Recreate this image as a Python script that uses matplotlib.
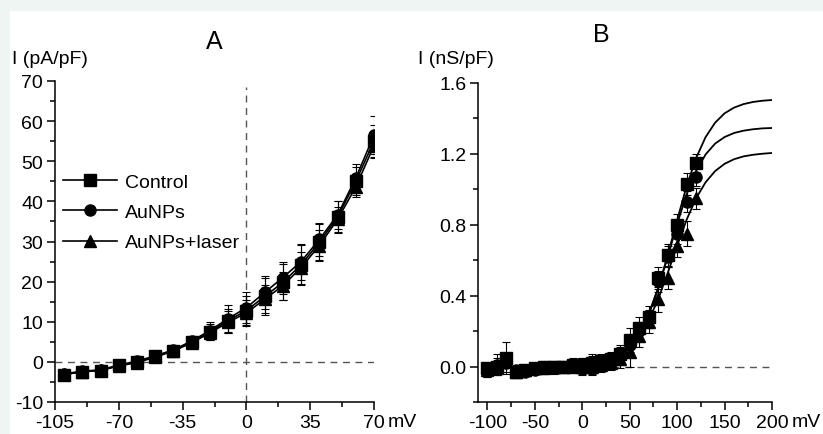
import matplotlib
matplotlib.use("Agg")
import matplotlib.pyplot as plt
from matplotlib.patches import Rectangle
from matplotlib.ticker import MultipleLocator, FormatStrFormatter

plt.rcParams["font.family"] = ["Liberation Sans", "DejaVu Sans"]
plt.rcParams["font.size"] = 14
plt.rcParams["axes.unicode_minus"] = False

# ---- panel A: I-V relation ----
v_a = [-100, -90, -80, -70, -60, -50, -40, -30, -20, -10, 0, 10, 20, 30, 40, 50, 60, 70]
ctrl_a = [-3.2, -2.4, -2.2, -0.9, 0.0, 1.4, 2.8, 4.9, 7.5, 10.3, 12.8, 16.3, 19.8, 24.2, 29.8, 36.1, 45.0, 55.0]
aunp_a = [-3.0, -2.3, -2.0, -0.8, 0.2, 1.5, 3.0, 5.2, 7.8, 10.8, 13.5, 17.3, 21.0, 25.0, 30.5, 36.6, 45.8, 56.5]
laser_a = [-3.1, -2.5, -2.1, -1.0, -0.2, 1.2, 2.7, 4.8, 7.2, 9.9, 12.2, 15.6, 19.0, 23.5, 29.0, 35.5, 43.6, 53.9]
ctrl_a_err = [0.7, 0.7, 0.7, 0.7, 0.8, 0.8, 1.0, 1.2, 2.0, 3.0, 3.5, 4.5, 4.5, 5.0, 4.5, 4.0, 3.5, 4.0]
aunp_a_err = [0.6, 0.6, 0.6, 0.6, 0.7, 0.8, 1.0, 1.3, 2.2, 3.3, 3.8, 4.0, 4.0, 4.5, 4.0, 3.5, 3.5, 4.8]
laser_a_err = [0.6, 0.6, 0.6, 0.6, 0.7, 0.7, 0.9, 1.1, 1.8, 2.8, 3.2, 3.5, 3.5, 4.0, 3.8, 3.2, 2.5, 3.0]

# ---- panel B: conductance ----
v_b = [-100, -90, -80, -70, -60, -50, -40, -30, -20, -10, 0, 10, 20, 30, 40, 50, 60, 70, 80, 90, 100, 110, 120]
ctrl_b = [-0.01, 0.0, 0.05, -0.03, -0.02, -0.01, 0.0, 0.0, 0.0, 0.01, 0.01, 0.02, 0.03, 0.04, 0.07,
          0.15, 0.22, 0.28, 0.50, 0.63, 0.80, 1.03, 1.15]
aunp_b = [-0.02, 0.01, 0.02, -0.02, -0.03, -0.02, -0.01, -0.01, 0.0, 0.0, 0.0, 0.01, 0.02, 0.03, 0.06,
          0.12, 0.20, 0.27, 0.48, 0.62, 0.75, 0.93, 1.07]
laser_b = [-0.02, -0.01, 0.03, -0.03, -0.02, -0.01, -0.01, 0.0, 0.0, 0.0, 0.0, 0.0, 0.01, 0.02, 0.04,
           0.08, 0.17, 0.25, 0.38, 0.50, 0.68, 0.75, 0.95]
ctrl_b_err = [0.03, 0.05, 0.09, 0.03, 0.02, 0.02, 0.03, 0.03, 0.03, 0.04, 0.04, 0.04, 0.04, 0.04, 0.05,
              0.07, 0.06, 0.06, 0.06, 0.06, 0.06, 0.06, 0.05]
aunp_b_err = [0.04, 0.06, 0.05, 0.02, 0.02, 0.02, 0.03, 0.03, 0.03, 0.03, 0.05, 0.06, 0.04, 0.04, 0.05,
              0.06, 0.05, 0.05, 0.06, 0.06, 0.06, 0.06, 0.05]
laser_b_err = [0.04, 0.04, 0.04, 0.02, 0.02, 0.02, 0.03, 0.03, 0.03, 0.03, 0.04, 0.04, 0.04, 0.04, 0.05,
               0.08, 0.06, 0.06, 0.07, 0.06, 0.06, 0.07, 0.06]

# fitted curves
v_fit = [0, 10, 20, 30, 40, 50, 60, 70, 80, 90, 100, 110, 120, 130, 140, 150, 160, 170, 180, 190, 200]
ctrl_fit = [0.009, 0.015, 0.025, 0.042, 0.071, 0.117, 0.189, 0.296, 0.444, 0.627, 0.827, 1.018, 1.177,
            1.295, 1.376, 1.429, 1.461, 1.481, 1.493, 1.500, 1.504]
aunp_fit = [0.008, 0.013, 0.023, 0.040, 0.068, 0.113, 0.186, 0.294, 0.441, 0.619, 0.805, 0.972, 1.104,
            1.197, 1.258, 1.295, 1.318, 1.331, 1.339, 1.344, 1.346]
laser_fit = [0.009, 0.015, 0.024, 0.040, 0.066, 0.107, 0.170, 0.260, 0.381, 0.527, 0.683, 0.829, 0.950,
             1.040, 1.103, 1.144, 1.170, 1.186, 1.195, 1.201, 1.205]

labels = ["Control", "AuNPs", "AuNPs+laser"]
markers = ["s", "o", "^"]

fig = plt.figure(figsize=(8.23, 4.35), dpi=100)
fig.patch.set_facecolor("#eef5f2")
bg = Rectangle((10 / 823, 0), 1, 1 - 12 / 435, transform=fig.transFigure,
               facecolor="white", edgecolor="none", zorder=-10)
fig.patches.append(bg)

ax_a = fig.add_axes([55 / 823, 32 / 435, 319 / 823, 321 / 435])
ax_b = fig.add_axes([478 / 823, 32 / 435, 294 / 823, 319 / 435])


def style(ax):
    ax.set_facecolor("none")
    for s in ("top", "right"):
        ax.spines[s].set_visible(False)
    for s in ("left", "bottom"):
        ax.spines[s].set_linewidth(1.1)
    ax.tick_params(which="major", direction="out", length=6, width=1.1, pad=2.5, labelsize=14)
    ax.tick_params(which="minor", direction="out", length=3.5, width=1.1)


# panel A
ax_a.axhline(0, color="#555555", lw=1, ls=(0, (5, 4)), zorder=1)
ax_a.plot([0, 0], [-10, 68.5], color="#555555", lw=1, ls=(0, (5, 4)), zorder=1)
series_a = [(ctrl_a, ctrl_a_err), (aunp_a, aunp_a_err), (laser_a, laser_a_err)]
for (y, e), m, lab in zip(series_a, markers, labels):
    ax_a.errorbar(v_a, y, yerr=e, fmt="-" + m, color="black", lw=1.2, ms=8,
                  elinewidth=0.8, capsize=3, capthick=0.8, label=lab, zorder=3)
ax_a.set_xlim(-105, 70)
ax_a.set_ylim(-10, 70)
ax_a.xaxis.set_major_locator(MultipleLocator(35))
ax_a.xaxis.set_minor_locator(MultipleLocator(17.5))
ax_a.yaxis.set_major_locator(MultipleLocator(10))
ax_a.yaxis.set_minor_locator(MultipleLocator(5))
style(ax_a)
handles, labs = ax_a.get_legend_handles_labels()
handles = [h[0] for h in handles]
fig.legend(handles, labs, loc="upper left", bbox_to_anchor=(63 / 823, 1 - 174 / 435),
           frameon=False, borderpad=0, borderaxespad=0, handlelength=2.8, handletextpad=0.4,
           labelspacing=0.66, fontsize=14)
ax_a.set_title("A", fontsize=18, pad=24)
fig.text(12 / 823, 1 - 60 / 435, "I (pA/pF)", ha="left", va="center", fontsize=14)
ax_a.annotate("mV", xy=(70, 0), xycoords=ax_a.get_xaxis_transform(), xytext=(10, -8),
              textcoords="offset points", ha="left", va="top", fontsize=14)

# panel B
ax_b.plot([-100, 200], [0, 0], color="#555555", lw=1, ls=(0, (5, 4)), zorder=1)
for yf in (ctrl_fit, aunp_fit, laser_fit):
    ax_b.plot(v_fit, yf, color="black", lw=1.3, zorder=2)
series_b = [(ctrl_b, ctrl_b_err), (aunp_b, aunp_b_err), (laser_b, laser_b_err)]
for (y, e), m in zip(series_b, markers):
    ax_b.errorbar(v_b, y, yerr=e, fmt=m, color="black", ms=8,
                  elinewidth=0.8, capsize=3, capthick=0.8, zorder=3)
ax_b.set_xlim(-110, 200)
ax_b.set_ylim(-0.2, 1.6)
ax_b.xaxis.set_major_locator(MultipleLocator(50))
ax_b.xaxis.set_minor_locator(MultipleLocator(25))
ax_b.yaxis.set_major_locator(MultipleLocator(0.4))
ax_b.yaxis.set_minor_locator(MultipleLocator(0.2))
ax_b.yaxis.set_major_formatter(FormatStrFormatter("%.1f"))
style(ax_b)
ax_b.set_title("B", fontsize=18, pad=30, x=0.42)
fig.text(418 / 823, 1 - 60 / 435, "I (nS/pF)", ha="left", va="center", fontsize=14)
ax_b.annotate("mV", xy=(200, 0), xycoords=ax_b.get_xaxis_transform(), xytext=(14, -8),
              textcoords="offset points", ha="left", va="top", fontsize=14)

fig.savefig("out.png", dpi=100, facecolor=fig.get_facecolor())
